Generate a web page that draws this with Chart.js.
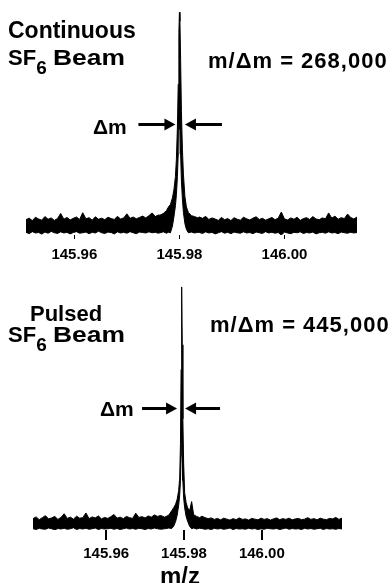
<!DOCTYPE html>
<html>
<head>
<meta charset="utf-8">
<script src="https://cdn.jsdelivr.net/npm/chart.js@4.4.1/dist/chart.umd.min.js"></script>
<style>
  body { margin: 0; background: #fff; }
  #wrap { position: relative; width: 392px; height: 583px; overflow: hidden; background: #fff; }
  canvas { position: absolute; left: 0; }
  .lbl { position: absolute; font: bold 22px "Liberation Sans", Arial, sans-serif; line-height: 1; white-space: nowrap; color: #000; transform-origin: 0 0; }
  .lbl sub { font-size: 19px; vertical-align: baseline; position: relative; top: 9px; }
  .lbl .wide { display: inline-block; transform: scaleX(1.2); transform-origin: 0 0; margin-left: 6px; }
  .lbl.ratio { letter-spacing: 1px; }
</style>
</head>
<body>
<div id="wrap">
  <canvas id="contChart" width="392" height="280" style="top:0"></canvas>
  <canvas id="pulsChart" width="392" height="313" style="top:270px"></canvas>

  <div class="lbl" style="left:8px;top:19px;font-size:23px">Continuous</div>
  <div class="lbl" style="left:8px;top:47px">SF<sub>6</sub><span class="wide">Beam</span></div>
  <div class="lbl ratio" style="left:208px;top:50px">m/&Delta;m = 268,000</div>
  <div class="lbl" style="left:93px;top:116px;font-size:21px">&Delta;m</div>

  <div class="lbl" style="left:30px;top:303px">Pulsed</div>
  <div class="lbl" style="left:8px;top:324px">SF<sub>6</sub><span class="wide">Beam</span></div>
  <div class="lbl ratio" style="left:210px;top:314px">m/&Delta;m = 445,000</div>
  <div class="lbl" style="left:100px;top:398px;font-size:21px">&Delta;m</div>

  <div class="lbl" style="left:160px;top:564px;font-size:24px">m/z</div>
</div>
<script>
const tickMz = [145.96, 145.98, 146.00];

// continuous beam: baseline sampled every 0.0006 either side of the peak
const contStep = 0.0006;
const contLeftStart = 145.9508;
const contLeftHi = [6.8, 7.5, 6.4, 7.9, 7.1, 6.6, 8.2, 7.0, 7.6, 6.5, 7.3, 9.6, 7.0, 7.8, 6.7, 7.4, 8.0, 6.9, 9.9, 7.2, 7.7, 6.6, 8.1, 7.0, 7.5, 6.8, 7.9, 7.3, 6.9, 8.3, 7.1, 7.6, 9.4, 7.4, 8.0, 7.2, 7.8, 8.4, 7.6, 8.6, 9.8, 8.2, 8.9];
const contLeftLo = [1.2, 0.6, 1.5, 0.9, 1.1, 0.4, 1.3, 0.8, 1.6, 1.0, 0.7, 1.4, 0.9, 1.2, 0.5, 1.1, 1.5, 0.8, 1.0, 1.3, 0.6, 1.2, 0.9, 1.7, 1.0, 0.7, 1.3, 1.1, 0.5, 1.4, 0.9, 1.2, 0.8, 1.5, 1.0, 0.6, 1.3, 1.1, 0.9, 1.4, 1.0, 1.2, 0.8];
const contPeakMz = [145.97629, 145.97695, 145.97752, 145.97790, 145.97829, 145.97867, 145.97895, 145.97924, 145.97943, 145.97962, 145.97977, 145.97990, 145.98000, 145.98010, 145.98023, 145.98038, 145.98057, 145.98076, 145.98105, 145.98133, 145.98171, 145.98229, 145.98286, 145.98352];
const contPeakHi = [8.8, 9.6, 10.8, 12.4, 13.6, 16.5, 20, 26, 34, 48, 67, 90, 99, 95, 78, 55, 38, 27, 17, 12.5, 10, 8.6, 8.2, 7.6];
const contPeakLo = [1.0, 1.4, 0.8, 1.2, 1.0, 4, 8, 13, 18, 26, 36, 48, 56, 47, 36, 24, 16, 10, 5, 2.5, 1.0, 1.3, 0.9, 1.2];
const contRightStart = 145.9838;
const contRightHi = [8.0, 7.4, 8.3, 6.9, 7.6, 7.1, 6.5, 7.8, 6.8, 7.3, 6.4, 7.7, 7.0, 6.6, 7.9, 7.2, 6.7, 7.5, 8.1, 6.9, 7.4, 6.6, 7.2, 7.8, 6.8, 7.5, 10.2, 7.1, 6.7, 7.6, 7.0, 7.9, 6.5, 7.3, 7.7, 6.9, 8.2, 7.1, 6.8, 7.6, 7.2, 9.8, 7.5, 8.4, 7.0, 7.7, 7.3, 9.3, 7.8, 7.1, 8.0];
const contRightLo = [1.1, 0.7, 1.4, 0.9, 1.2, 0.5, 1.0, 1.5, 0.8, 1.2, 0.6, 1.3, 1.0, 0.8, 1.4, 0.9, 1.1, 0.6, 1.3, 1.0, 0.7, 1.5, 0.9, 1.2, 0.8, 1.1, 0.0, 1.3, 0.9, 0.6, 1.2, 1.0, 1.4, 0.7, 1.1, 0.9, 1.3, 0.5, 1.0, 1.2, 0.8, 1.4, 0.9, 1.1, 0.6, 1.3, 1.0, 0.8, 1.2, 0.9, 1.1];

// pulsed beam: baseline sampled every 0.0008
const pulsStep = 0.0008;
const pulsLeftStart = 145.9412;
const pulsLeftHi = [4.6, 5.3, 4.2, 5.0, 5.8, 4.5, 4.9, 5.5, 4.3, 5.1, 6.6, 4.7, 5.2, 4.4, 5.6, 4.8, 5.0, 6.9, 4.6, 5.3, 4.9, 5.7, 4.5, 5.1, 4.7, 5.4, 6.3, 4.8, 5.2, 4.6, 5.5, 5.0, 4.7, 6.8, 5.1, 5.4, 4.9, 5.7, 5.2, 6.1, 5.5, 5.9];
const pulsLeftLo = [0.5, 0.2, 0.7, 0.4, 0.3, 0.8, 0.5, 0.1, 0.6, 0.4, 0.7, 0.3, 0.5, 0.9, 0.2, 0.6, 0.4, 0.7, 0.3, 0.5, 0.8, 0.2, 0.6, 0.4, 0.5, 0.7, 0.3, 0.6, 0.2, 0.5, 0.8, 0.4, 0.6, 0.3, 0.7, 0.5, 0.2, 0.6, 0.4, 0.8, 0.5, 0.3];
const pulsPeakMz = [145.97504, 145.97607, 145.97684, 145.97735, 145.97786, 145.97825, 145.97863, 145.97889, 145.97909, 145.97925, 145.97940, 145.97955, 145.97971, 145.97991, 145.98017, 145.98055, 145.98094, 145.98145, 145.98196, 145.98248, 145.98325, 145.98402];
const pulsPeakHi = [5.2, 6.0, 7.8, 9.0, 10.5, 12.5, 16, 21, 35, 65, 98.4, 75, 45, 27, 15, 11, 9, 7.8, 11.5, 6.2, 5.5, 5.0];
const pulsPeakLo = [0.5, 0.8, 0.6, 1.5, 3.5, 6, 10, 14, 20, 30, 40, 30, 20, 13, 9, 5.5, 3.5, 1.5, 0.5, 0.8, 0.4, 0.7];
const pulsRightStart = 145.9846;
const pulsRightHi = [5.6, 5.0, 4.6, 4.9, 4.3, 4.7, 4.1, 4.8, 4.4, 4.0, 4.6, 4.2, 4.9, 4.3, 4.5, 4.0, 4.7, 4.4, 4.1, 4.8, 4.3, 4.6, 4.0, 4.5, 4.9, 4.2, 4.6, 4.3, 4.8, 4.1, 4.5, 4.7, 4.2, 4.4, 5.0, 4.3, 4.6, 4.1, 4.8, 4.4, 4.2, 4.7, 4.5, 5.1, 4.3, 4.8];
const pulsRightLo = [0.6, 0.3, 0.5, 0.2, 0.7, 0.4, 0.6, 0.3, 0.5, 0.8, 0.2, 0.6, 0.4, 0.5, 0.3, 0.7, 0.4, 0.6, 0.2, 0.5, 0.3, 0.7, 0.5, 0.4, 0.6, 0.2, 0.5, 0.8, 0.3, 0.6, 0.4, 0.5, 0.2, 0.7, 0.4, 0.6, 0.3, 0.5, 0.7, 0.2, 0.6, 0.4, 0.5, 0.3, 0.6, 0.4];

const FONT = '"Liberation Sans", Arial, sans-serif';

// join the two baseline stretches and the peak into one {x, y} trace
function trace(step, leftStart, left, peakMz, peak, rightStart, right) {
  const pts = [];
  left.forEach((y, i) => pts.push({ x: leftStart + i * step, y }));
  peak.forEach((y, i) => pts.push({ x: peakMz[i], y }));
  right.forEach((y, i) => pts.push({ x: rightStart + i * step, y }));
  return pts;
}

// the two arrows closing in on the peak at half height
const dmArrows = {
  id: 'dmArrows',
  afterDatasetsDraw(chart, args, opts) {
    const { ctx, scales: { x, y } } = chart;
    const top = opts.peakHi.indexOf(Math.max(...opts.peakHi));
    const cx = x.getPixelForValue(opts.peakMz[top]);
    const cy = Math.round(y.getPixelForValue(opts.peakHi[top] / 2)) + 0.5;
    ctx.save();
    ctx.fillStyle = '#000';
    ctx.strokeStyle = '#000';
    ctx.lineWidth = 3;
    arrow(ctx, cx - opts.gapL, cy, -1, opts.len);
    arrow(ctx, cx + opts.gapR, cy, 1, opts.len);
    ctx.restore();
  }
};

function arrow(ctx, tip, y, dir, len) {
  const head = 11, half = 6;
  ctx.beginPath();
  ctx.moveTo(tip + dir * (head - 1), y);
  ctx.lineTo(tip + dir * len, y);
  ctx.stroke();
  ctx.beginPath();
  ctx.moveTo(tip, y);
  ctx.lineTo(tip + dir * head, y - half);
  ctx.lineTo(tip + dir * head, y + half);
  ctx.closePath();
  ctx.fill();
}

function spectrum(id, s) {
  return new Chart(document.getElementById(id), {
    type: 'line',
    data: {
      datasets: [
        { data: s.hi, borderColor: '#000', backgroundColor: '#000', borderWidth: 1, pointRadius: 0, fill: '+1' },
        { data: s.lo, borderColor: '#000', borderWidth: 1, pointRadius: 0, fill: false }
      ]
    },
    options: {
      responsive: false,
      animation: false,
      events: [],
      layout: { padding: s.pad },
      plugins: {
        legend: { display: false },
        tooltip: { enabled: false },
        dmArrows: s.arrows
      },
      scales: {
        x: {
          type: 'linear',
          min: s.min,
          max: s.max,
          border: { display: false },
          grid: { drawOnChartArea: false, tickLength: s.tickLen, lineWidth: s.tickWidth, color: '#000' },
          afterBuildTicks: scale => { scale.ticks = tickMz.map(v => ({ value: v })); },
          ticks: {
            color: '#000',
            padding: s.tickPad,
            maxRotation: 0,
            font: { family: FONT, size: 15, weight: 'bold' },
            callback: v => v.toFixed(2)
          }
        },
        y: { display: false, min: 0, max: 100 }
      }
    },
    plugins: [dmArrows]
  });
}

spectrum('contChart', {
  hi: trace(contStep, contLeftStart, contLeftHi, contPeakMz, contPeakHi, contRightStart, contRightHi),
  lo: trace(contStep, contLeftStart, contLeftLo, contPeakMz, contPeakLo, contRightStart, contRightLo),
  min: 145.9508, max: 146.0138,
  pad: { left: 26, right: 35, top: 10, bottom: 9 },
  tickLen: 4, tickWidth: 1, tickPad: 7,
  arrows: { peakMz: contPeakMz, peakHi: contPeakHi, gapL: 4, gapR: 5.5, len: 37 }
});

spectrum('pulsChart', {
  hi: trace(pulsStep, pulsLeftStart, pulsLeftHi, pulsPeakMz, pulsPeakHi, pulsRightStart, pulsRightHi),
  lo: trace(pulsStep, pulsLeftStart, pulsLeftLo, pulsPeakMz, pulsPeakLo, pulsRightStart, pulsRightLo),
  min: 145.9412, max: 146.0206,
  pad: { left: 33, right: 50, top: 13, bottom: 15 },
  tickLen: 10, tickWidth: 2, tickPad: 5,
  arrows: { peakMz: pulsPeakMz, peakHi: pulsPeakHi, gapL: 4.6, gapR: 3.4, len: 35 }
});
</script>
</body>
</html>
